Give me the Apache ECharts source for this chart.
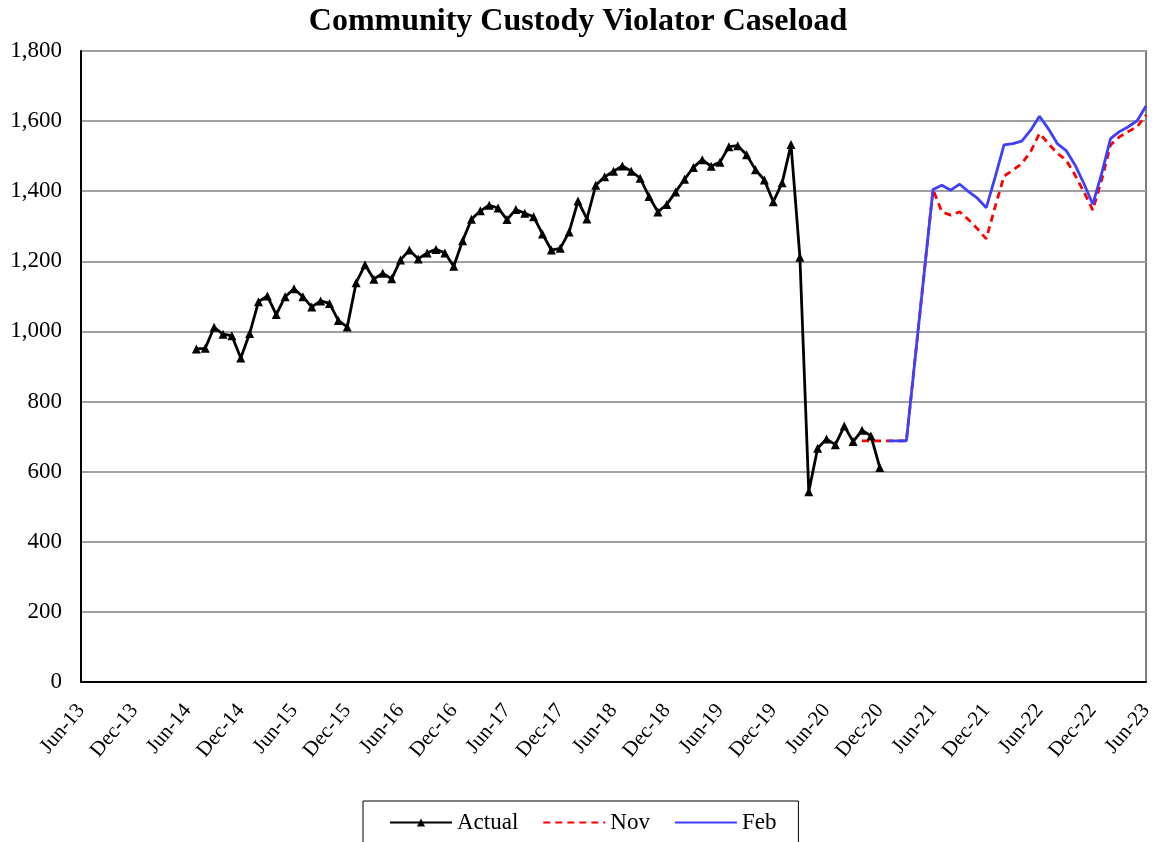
<!DOCTYPE html>
<html>
<head>
<meta charset="utf-8">
<script src="https://cdn.jsdelivr.net/npm/echarts@6/dist/echarts.min.js"></script>
<style>
html,body{margin:0;padding:0;background:#fff;}
#chart{width:1156px;height:842px;}
</style>
</head>
<body>
<div id="chart"></div>
<script>
// Month categories Jun-13 .. Jun-23
const monthNames = ['Jan','Feb','Mar','Apr','May','Jun','Jul','Aug','Sep','Oct','Nov','Dec'];
const categories = [];
for (let i = 0; i <= 120; i++) {
  const m = (5 + i) % 12;
  const y = 13 + Math.floor((5 + i) / 12);
  categories.push(monthNames[m] + '-' + String(y).padStart(2, '0'));
}

// Actual: Jul-14 .. Dec-20
const actualStart = 'Jul-14';
const actualValues = [
  950, 952, 1012, 992, 988, 924,
  994, 1085, 1101, 1048, 1099, 1122, 1099, 1070, 1087, 1080, 1031, 1013,
  1139, 1190, 1149, 1166, 1150, 1204, 1232, 1207, 1224, 1234, 1224, 1186,
  1259, 1320, 1344, 1360, 1352, 1319, 1348, 1337, 1327, 1278, 1232, 1237,
  1284, 1372, 1321, 1417, 1441, 1457, 1472, 1457, 1437, 1385, 1341, 1362,
  1398, 1434, 1468, 1490, 1471, 1483, 1527, 1530, 1504, 1461, 1432, 1370,
  1424, 1533, 1212, 543, 667, 693, 677, 730, 686, 718, 702, 612
];

// Nov forecast: Oct-20 .. Jun-23
const novStart = 'Oct-20';
const novValues = [
  688, 688, 688, 688, 688, 688, null, null,
  1405, 1341, 1332, 1341, 1319, 1293, 1264,
  1356, 1443, 1460, 1479, 1513, 1565, 1536, 1508, 1489, 1446, 1398, 1346,
  1432, 1532, 1555, 1570, 1584, 1617
];

// Feb forecast: Jan-21 .. Jun-23
const febStart = 'Jan-21';
const febValues = [
  688, 688, 688, null, null,
  1405, 1417, 1403, 1420, 1399, 1380, 1353,
  1440, 1532, 1536, 1543, 1574, 1614, 1578, 1536, 1516, 1475, 1422, 1363,
  1450, 1550, 1570, 1584, 1601, 1643
];

const yTicks = { min: 0, max: 1800, interval: 200 };

function place(start, vals) {
  const arr = new Array(categories.length).fill(null);
  const s = categories.indexOf(start);
  vals.forEach((v, i) => { arr[s + i] = v; });
  return arr;
}

const FONT = '"Liberation Serif", "Times New Roman", serif';
const chart = echarts.init(document.getElementById('chart'), null, { renderer: 'canvas' });
chart.setOption({
  backgroundColor: '#fff',
  animation: false,
  title: {
    text: 'Community Custody Violator Caseload',
    left: 'center',
    top: 1,
    textStyle: { fontFamily: FONT, fontSize: 32, fontWeight: 'bold', color: '#000' }
  },
  grid: {
    left: 81, right: 9, top: 51, bottom: 160,
    show: true, borderColor: '#555', borderWidth: 1.5, backgroundColor: 'transparent'
  },
  legend: {
    left: 363, top: 801,
    padding: [10, 22, 14, 26],
    itemGap: 24,
    itemWidth: 62,
    itemHeight: 10,
    borderColor: '#000',
    borderWidth: 1,
    textStyle: { fontFamily: FONT, fontSize: 23, color: '#000' },
    data: [
      { name: 'Actual' },
      { name: 'Nov', itemStyle: { opacity: 0 } },
      { name: 'Feb', itemStyle: { opacity: 0 } }
    ]
  },
  xAxis: {
    type: 'category',
    data: categories,
    boundaryGap: false,
    axisLine: { show: true, lineStyle: { color: '#000', width: 2 } },
    axisTick: { show: false },
    axisLabel: {
      interval: 5,
      rotate: 50,
      margin: 25,
      fontFamily: FONT, fontSize: 21, color: '#000'
    },
    splitLine: { show: false }
  },
  yAxis: {
    type: 'value',
    min: yTicks.min, max: yTicks.max, interval: yTicks.interval,
    axisLine: { show: true, lineStyle: { color: '#000', width: 2 } },
    axisTick: { show: false },
    axisLabel: {
      margin: 19,
      fontFamily: FONT, fontSize: 23, color: '#000',
      formatter: v => v.toLocaleString('en-US')
    },
    splitLine: { show: true, lineStyle: { color: '#a0a0a0', width: 2 } }
  },
  series: [
    {
      name: 'Actual', type: 'line',
      data: place(actualStart, actualValues),
      symbol: 'triangle', symbolSize: 9, showSymbol: true, showAllSymbol: true,
      itemStyle: { color: '#000' },
      lineStyle: { color: '#000', width: 2.8 },
      connectNulls: false
    },
    {
      name: 'Nov', type: 'line',
      data: place(novStart, novValues),
      symbol: 'none', showSymbol: false,
      itemStyle: { color: '#ff0000' },
      lineStyle: { color: '#ff0000', width: 2.8, type: [7, 5] },
      connectNulls: true
    },
    {
      name: 'Feb', type: 'line',
      data: place(febStart, febValues),
      symbol: 'none', showSymbol: false,
      itemStyle: { color: '#3f3fff' },
      lineStyle: { color: '#3f3fff', width: 2.8 },
      connectNulls: true
    }
  ]
});
</script>
</body>
</html>
